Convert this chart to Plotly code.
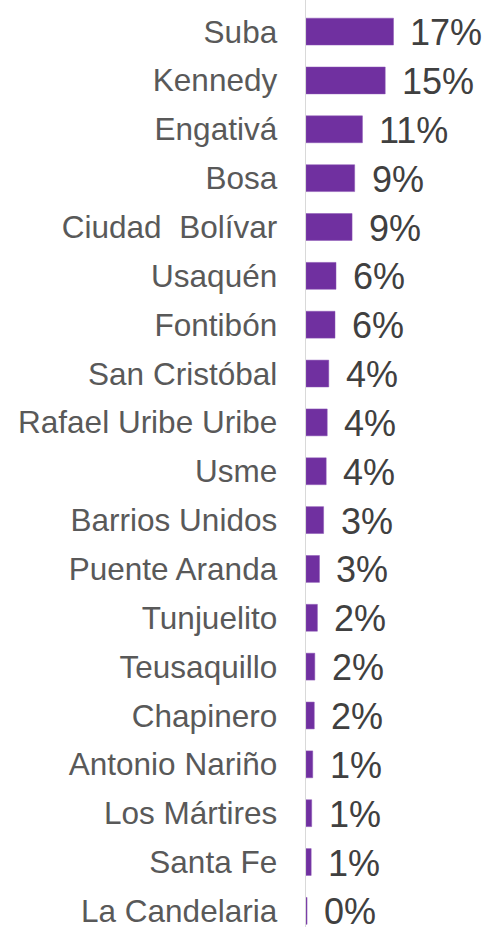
import plotly.graph_objects as go

localidades = ["Suba", "Kennedy", "Engativá", "Bosa", "Ciudad  Bolívar", "Usaquén",
               "Fontibón", "San Cristóbal", "Rafael Uribe Uribe", "Usme",
               "Barrios Unidos", "Puente Aranda", "Tunjuelito", "Teusaquillo",
               "Chapinero", "Antonio Nariño", "Los Mártires", "Santa Fe",
               "La Candelaria"]
porcentajes = [16.9, 15.3, 10.9, 9.4, 8.9, 5.8, 5.6, 4.4, 4.1, 3.9,
               3.4, 2.6, 2.2, 1.7, 1.6, 1.3, 1.1, 1.0, 0.2]
etiquetas = [f"{round(v)}%" for v in porcentajes]

fig = go.Figure()
fig.add_trace(go.Bar(
    y=localidades, x=porcentajes, orientation="h",
    marker=dict(color="#7030A0", line=dict(color="#8a55b5", width=0.5)),
    width=0.55, hoverinfo="skip",
))

for loc, v, t in zip(localidades, porcentajes, etiquetas):
    fig.add_annotation(x=v, y=loc, text=t, showarrow=False, xanchor="left",
                       yanchor="middle", xshift=16, yshift=-1, borderpad=0,
                       font=dict(family="Liberation Sans, Arial, sans-serif",
                                 size=36, color="#404040"))

fig.update_layout(
    width=489, height=929,
    margin=dict(l=306, r=0, t=0, b=0),
    paper_bgcolor="white", plot_bgcolor="white",
    showlegend=False,
    xaxis=dict(range=[0, 35.35], visible=False, fixedrange=True),
    yaxis=dict(
        type="category",
        range=[18.33, -0.647],
        showline=True, linecolor="#d9d9d9", linewidth=1.5,
        showgrid=False, zeroline=False, fixedrange=True,
        ticks="", ticklabelstandoff=21,
        tickfont=dict(family="Liberation Sans, Arial, sans-serif", size=31.5,
                      color="#595959"),
    ),
)

fig.write_html("out.html",
               config={"displayModeBar": False, "staticPlot": True},
               post_script="document.body.style.margin='0';document.body.style.overflow='hidden';")
